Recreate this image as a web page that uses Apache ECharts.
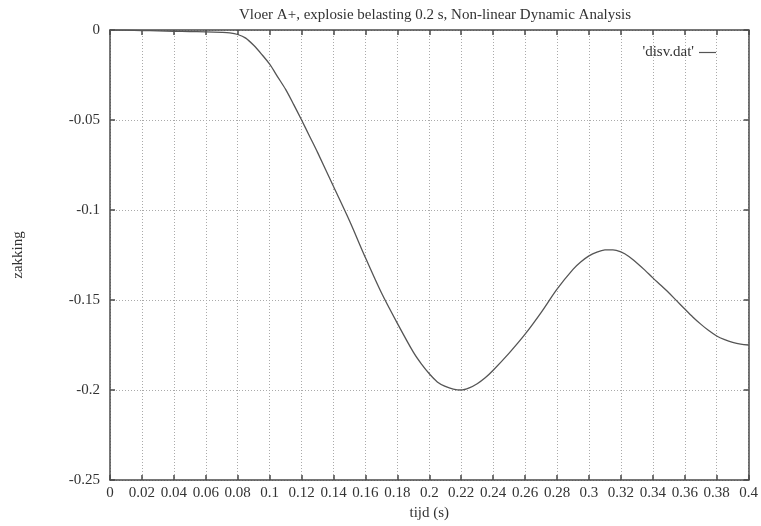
<!DOCTYPE html>
<html>
<head>
	<title>Vloer A+ zakking</title>
	<meta charset="utf-8">
	<script src="https://cdn.jsdelivr.net/npm/echarts@6/dist/echarts.min.js"></script>
	<style type="text/css">
		html, body { margin: 0; padding: 0; background: #fff; }
		#chart { width: 761px; height: 526px; }
	</style>
</head>
<body>
<div id="chart"></div>
<script type="text/javascript">

	// tijd (s)
	var tijd = [0, 0.01, 0.02, 0.03, 0.04, 0.05, 0.06, 0.07, 0.075, 0.08, 0.085, 0.09, 0.095,
		0.10, 0.105, 0.11, 0.115, 0.12, 0.125, 0.13, 0.14, 0.15, 0.16, 0.17, 0.18, 0.19, 0.195,
		0.20, 0.205, 0.21, 0.215, 0.22, 0.225, 0.23, 0.235, 0.24, 0.25, 0.26, 0.27, 0.28, 0.29, 0.295,
		0.30, 0.305, 0.31, 0.315, 0.32, 0.325, 0.33, 0.335, 0.34, 0.345, 0.35, 0.355, 0.36, 0.365, 0.37, 0.375,
		0.38, 0.385, 0.39, 0.395, 0.40];

	// zakking, gelezen uit de grafiek
	var zakking = [0, -0.0001, -0.0003, -0.0005, -0.0007, -0.0009, -0.0010, -0.0013, -0.0016, -0.0025, -0.0045, -0.0085, -0.0135,
		-0.019, -0.026, -0.033, -0.0413, -0.050, -0.059, -0.068, -0.087, -0.106, -0.1265, -0.146, -0.163, -0.179, -0.1855,
		-0.191, -0.1955, -0.198, -0.1995, -0.200, -0.1988, -0.1965, -0.1932, -0.189, -0.1795, -0.169, -0.157, -0.144, -0.133, -0.1288,
		-0.1255, -0.1234, -0.1222, -0.1221, -0.1233, -0.1258, -0.1294, -0.1334, -0.1377, -0.1418, -0.146, -0.1505, -0.155, -0.1594, -0.1634, -0.1670,
		-0.170, -0.1720, -0.1735, -0.1745, -0.175];

	var xTicks = { min: 0, max: 0.4, step: 0.02 };
	var yTicks = { min: -0.25, max: 0, step: 0.05 };

	var points = [];
	for (var i = 0; i < tijd.length; i++) {
		points.push([tijd[i], zakking[i]]);
	}

	var font = 'Liberation Serif';
	var fs = 15;
	var lijn = '#4a4a4a';

	function fmt(v) {
		return String(parseFloat(v.toFixed(3)));
	}

	// as zonder labels voor de boven- en rechterrand
	function randAs(pos, t) {
		return {
			type: 'value', position: pos,
			min: t.min, max: t.max, interval: t.step,
			axisLine: { show: true, onZero: false, lineStyle: { color: lijn, width: 1.5 } },
			axisTick: { show: true, inside: true, length: 5, lineStyle: { color: lijn, width: 1.5 } },
			axisLabel: { show: false },
			splitLine: { show: false }
		};
	}

	var myChart = echarts.init(document.getElementById('chart'));
	var option = {
		animation: false,
		title: {
			text: 'Vloer A+, explosie belasting 0.2 s, Non-linear Dynamic Analysis',
			left: 430,
			textAlign: 'center',
			top: 3,
			textStyle: { fontFamily: font, fontSize: fs, fontWeight: 'normal', color: '#333' }
		},
		legend: {
			right: 40,
			top: 40,
			align: 'right',
			icon: 'rect',
			itemWidth: 17,
			itemHeight: 1.2,
			itemGap: 6,
			textStyle: { fontFamily: font, fontSize: fs, color: '#333' },
			data: ["'disv.dat'"]
		},
		grid: { left: 110, right: 12, top: 30, bottom: 42 },
		xAxis: [{
			type: 'value',
			min: xTicks.min, max: xTicks.max, interval: xTicks.step,
			name: 'tijd (s)',
			nameLocation: 'middle',
			nameGap: 26,
			nameTextStyle: { fontFamily: font, fontSize: fs, color: '#333' },
			axisLine: { show: true, onZero: false, lineStyle: { color: lijn, width: 1.5 } },
			axisTick: { show: true, inside: true, length: 5, lineStyle: { color: lijn, width: 1.5 } },
			axisLabel: { fontFamily: font, fontSize: fs, color: '#333', margin: 6, formatter: fmt },
			splitLine: { show: true, lineStyle: { color: '#aaa', type: [1, 2], width: 1 } }
		}, randAs('top', xTicks)],
		yAxis: [{
			type: 'value',
			min: yTicks.min, max: yTicks.max, interval: yTicks.step,
			name: 'zakking',
			nameLocation: 'middle',
			nameGap: 84,
			nameTextStyle: { fontFamily: font, fontSize: fs, color: '#333' },
			axisLine: { show: true, onZero: false, lineStyle: { color: lijn, width: 1.5 } },
			axisTick: { show: true, inside: true, length: 5, lineStyle: { color: lijn, width: 1.5 } },
			axisLabel: { fontFamily: font, fontSize: fs, color: '#333', margin: 10, formatter: fmt },
			splitLine: { show: true, lineStyle: { color: '#aaa', type: [1, 2], width: 1 } }
		}, randAs('right', yTicks)],
		series: [{
			name: "'disv.dat'",
			type: 'line',
			data: points,
			showSymbol: false,
			smooth: 0.3,
			itemStyle: { color: '#555' },
			lineStyle: { color: '#555', width: 1.3 }
		}]
	};
	myChart.setOption(option);

</script>
</body>
</html>
